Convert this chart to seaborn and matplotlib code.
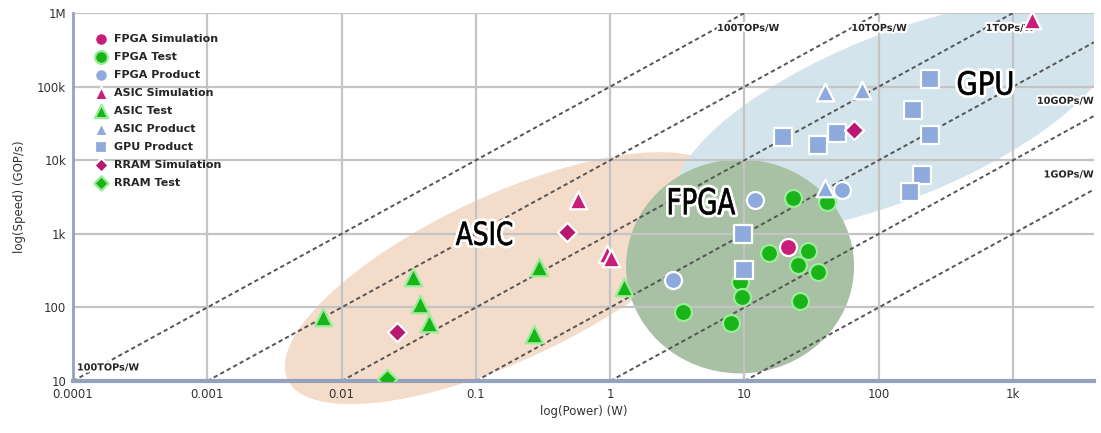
import numpy as np
import pandas as pd
import matplotlib
matplotlib.use("Agg")
import matplotlib.pyplot as plt
import matplotlib.transforms as mtransforms
from matplotlib.patches import Ellipse, PathPatch
from matplotlib.textpath import TextPath
from matplotlib.font_manager import FontProperties
import matplotlib.patheffects as pe
import seaborn as sns

# data: power (W) vs speed (GOP/s)
fpga_sim_power = [21.1]
fpga_sim_speed = [655]
fpga_test_power = [23.0, 41.1, 15.2, 29.7, 25.0, 35.3, 25.9, 9.25, 9.57, 3.49, 7.94]
fpga_test_speed = [3040, 2690, 543, 578, 372, 299, 121, 219, 137, 85.5, 60.5]
fpga_prod_power = [12.0, 2.94, 53.2]
fpga_prod_speed = [2860, 233, 3900]
asic_sim_power = [0.575, 0.95, 1.02, 1384]
asic_sim_speed = [2860, 530, 470, 800000]
asic_test_power = [0.00726, 0.034, 0.0384, 0.0448, 0.295, 0.271, 1.27]
asic_test_speed = [73, 256, 113, 60.5, 350, 44, 187]
asic_prod_power = [39.8, 75, 39.8]
asic_prod_speed = [84000, 89600, 4160]
gpu_prod_power = [9.75, 9.9, 19.4, 35.3, 48.9, 240, 180, 240, 210, 171]
gpu_prod_speed = [984, 318, 20600, 16000, 23300, 126000, 47800, 21900, 6250, 3670]
rram_sim_power = [0.0258, 0.476, 65.3]
rram_sim_speed = [45.7, 1047, 25600]
rram_test_power = [0.0218]
rram_test_speed = [10.8]

categories = ["FPGA Simulation", "FPGA Test", "FPGA Product", "ASIC Simulation",
              "ASIC Test", "ASIC Product", "GPU Product", "RRAM Simulation", "RRAM Test"]
powers = [fpga_sim_power, fpga_test_power, fpga_prod_power, asic_sim_power,
          asic_test_power, asic_prod_power, gpu_prod_power, rram_sim_power, rram_test_power]
speeds = [fpga_sim_speed, fpga_test_speed, fpga_prod_speed, asic_sim_speed,
          asic_test_speed, asic_prod_speed, gpu_prod_speed, rram_sim_speed, rram_test_speed]

# efficiency lines in GOP/s per W
efficiencies = [1e5, 1e4, 1e3, 1e2, 10, 1]
eff_labels = ["100TOPs/W", "10TOPs/W", "1TOPs/W", "", "10GOPs/W", "1GOPs/W"]

x_ticks = [1e-4, 1e-3, 1e-2, 1e-1, 1, 10, 100, 1000]
x_ticklabels = ["0.0001", "0.001", "0.01", "0.1", "1", "10", "100", "1k"]
y_ticks = [10, 100, 1e3, 1e4, 1e5, 1e6]
y_ticklabels = ["10", "100", "1k", "10k", "100k", "1M"]

df = pd.DataFrame({
    "category": [c for c, p in zip(categories, powers) for _ in p],
    "power": [v for p in powers for v in p],
    "speed": [v for s in speeds for v in s],
})

magenta = "#c81d78"
green = "#18b418"
blue = "#8eaadc"
styles = {
    "FPGA Simulation": ("o", magenta, "white", 150),
    "FPGA Test": ("o", green, "#9cec9c", 150),
    "FPGA Product": ("o", blue, "white", 150),
    "ASIC Simulation": ("^", magenta, "white", 160),
    "ASIC Test": ("^", green, "#9cec9c", 160),
    "ASIC Product": ("^", blue, "white", 160),
    "GPU Product": ("s", blue, "white", 150),
    "RRAM Simulation": ("D", "#b81870", "white", 95),
    "RRAM Test": ("D", green, "#9cec9c", 95),
}

sns.set_style("white")
plt.rcParams["font.family"] = ["DejaVu Sans"]
fig = plt.figure(figsize=(11.01, 4.33), dpi=100)
ax = fig.add_axes([0.0663, 0.120, 0.9273, 0.850])
ax.set_xscale("log")
ax.set_yscale("log")
xmin, xmax = 1e-4, 4000
ax.set_xlim(xmin, xmax)
ax.set_ylim(10, 1e6)


def anchored(cx, cy):
    # inches-based offset transform around a data point
    return fig.dpi_scale_trans + mtransforms.ScaledTranslation(cx, cy, ax.transData)


# shaded regions, sized in pixels around a data-space centre
def region(cx, cy, w, h, angle, color, clip=True):
    e = Ellipse((0, 0), w / 100, h / 100, angle=angle, transform=anchored(cx, cy),
                facecolor=color, edgecolor="none", zorder=0.2, clip_on=clip)
    ax.add_patch(e)


# condensed big label drawn as a scaled text path, white halo underneath
def narrow_label(cx, cy, s, w_px, h_px):
    tp = TextPath((0, 0), s, size=30, prop=FontProperties(family="DejaVu Sans"))
    bb = tp.get_extents()
    tr = (mtransforms.Affine2D()
          .translate(-(bb.x0 + bb.width / 2), -(bb.y0 + bb.height / 2))
          .scale(w_px / bb.width / 100, h_px / bb.height / 100)) + anchored(cx, cy)
    ax.add_patch(PathPatch(tp, transform=tr, facecolor="white", edgecolor="white",
                           lw=4.5, joinstyle="round", zorder=3.9))
    ax.add_patch(PathPatch(tp, transform=tr, facecolor="black", edgecolor="black",
                           lw=0.5, zorder=4))


region(0.165, 250, 480, 165, 25, "#f4dccb", clip=False)
region(132, 38500, 470, 165, 22, "#d3e4ec")
region(9.27, 361, 228, 214, 0, "#a8c0a4")

ax.set_axisbelow(True)
ax.grid(True, which="major", color="#c4c4c4", lw=1.6)
ax.minorticks_off()
for s in ["top", "right"]:
    ax.spines[s].set_visible(False)
ax.spines["bottom"].set_color("#95a2bd")
ax.spines["bottom"].set_linewidth(3)
ax.spines["left"].set_color("#95a2bd")
ax.spines["left"].set_linewidth(2)

# efficiency lines
glow = [pe.withStroke(linewidth=3, foreground="white")]
for eff, lab in zip(efficiencies, eff_labels):
    x0 = 10 / eff
    x1 = min(1e6 / eff, xmax)
    ax.plot([x0, x1], [x0 * eff, x1 * eff], color="#555555", lw=1.4,
            ls=(0, (2.2, 1.6)), zorder=1.5)
    if eff >= 1e3:
        ax.text(6.25e5 / eff, 6.25e5, lab, fontsize=7, fontweight="bold",
                ha="left", va="center", path_effects=glow, zorder=2)
    elif lab:
        ax.text(xmax * 0.995, xmax * eff * 1.6, lab, fontsize=7, fontweight="bold",
                ha="right", va="center", path_effects=glow, zorder=2)
ax.text(1.07e-4, 15.3, eff_labels[0], fontsize=7, fontweight="bold", ha="left",
        va="center", path_effects=glow, zorder=2)

for cat in categories:
    m, fc, ec, size = styles[cat]
    sns.scatterplot(data=df[df["category"] == cat], x="power", y="speed", marker=m,
                    color=fc, edgecolor=ec, linewidth=1.6, s=size, label=cat,
                    ax=ax, zorder=3)

narrow_label(0.1148, 1016, "ASIC", 56, 24)
narrow_label(4.83, 2770, "FPGA", 66, 27)
narrow_label(618, 112000, "GPU", 54, 24)

ax.set_xticks(x_ticks)
ax.set_xticklabels(x_ticklabels)
ax.set_yticks(y_ticks)
ax.set_yticklabels(y_ticklabels)
ax.tick_params(length=0, labelsize=8.5, colors="#333333", pad=5)
ax.set_xlabel("log(Power) (W)", fontsize=8.5, color="#333333", labelpad=3)
ax.set_ylabel("log(Speed) (GOP/s)", fontsize=8.5, color="#333333", labelpad=8)

leg = ax.legend(loc="upper left", bbox_to_anchor=(0.012, 0.955), frameon=False,
                prop={"weight": "bold", "size": 8}, labelspacing=0.72,
                handletextpad=0.2, markerscale=0.75, borderaxespad=0)

fig.savefig("out.png", dpi=100)
